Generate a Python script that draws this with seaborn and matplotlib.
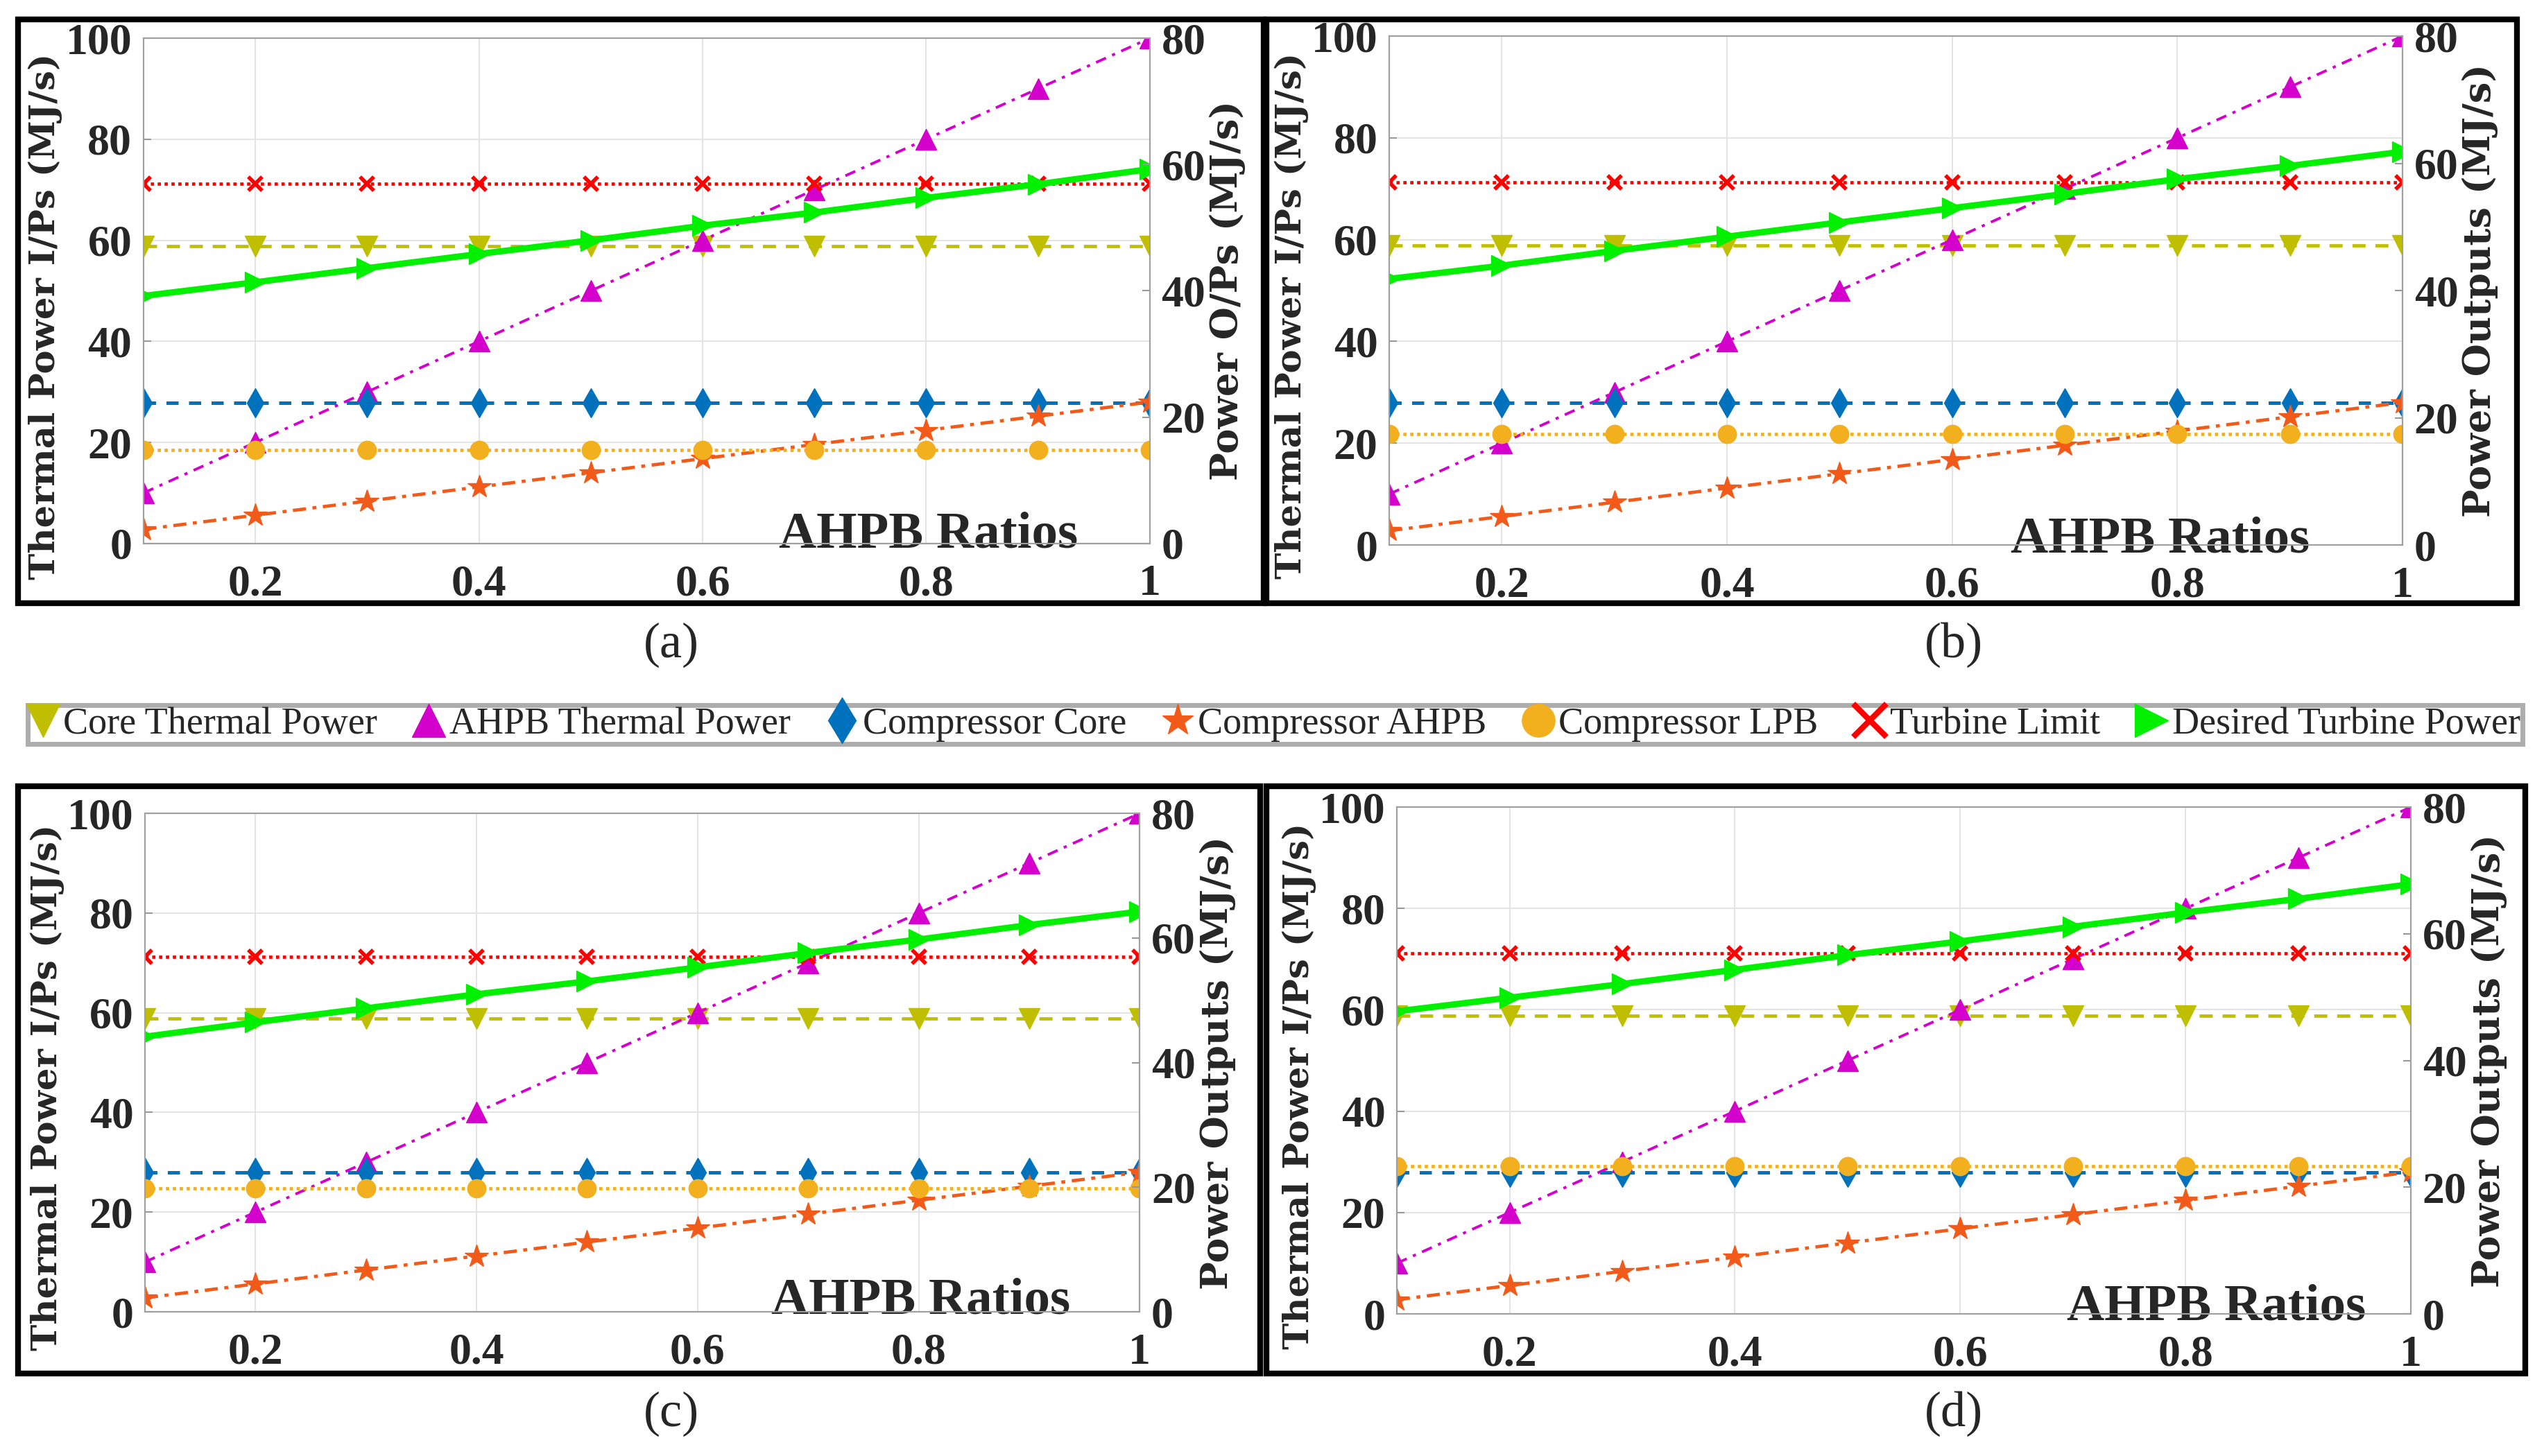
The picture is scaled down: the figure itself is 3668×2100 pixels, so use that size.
import matplotlib
matplotlib.use("Agg")
import matplotlib.pyplot as plt
import seaborn as sns
from matplotlib.lines import Line2D
from matplotlib.patches import Rectangle

# AHPB ratio on the x axis
ratios = [0.1, 0.2, 0.3, 0.4, 0.5, 0.6, 0.7, 0.8, 0.9, 1.0]

# series shared by all four panels (MJ/s, left scale)
core_thermal = [58.8, 58.8, 58.8, 58.8, 58.8, 58.8, 58.8, 58.8, 58.8, 58.8]
ahpb_thermal = [10, 20, 30, 40, 50, 60, 70, 80, 90, 100]
comp_core = [27.9, 27.9, 27.9, 27.9, 27.9, 27.9, 27.9, 27.9, 27.9, 27.9]
comp_ahpb = [2.8, 5.6, 8.4, 11.2, 14.0, 16.8, 19.6, 22.4, 25.2, 28.0]
turbine_limit = [71.2, 71.2, 71.2, 71.2, 71.2, 71.2, 71.2, 71.2, 71.2, 71.2]

# compressor LPB per panel
lpb_a = [18.5, 18.5, 18.5, 18.5, 18.5, 18.5, 18.5, 18.5, 18.5, 18.5]
lpb_b = [21.8, 21.8, 21.8, 21.8, 21.8, 21.8, 21.8, 21.8, 21.8, 21.8]
lpb_c = [24.8, 24.8, 24.8, 24.8, 24.8, 24.8, 24.8, 24.8, 24.8, 24.8]
lpb_d = [29.2, 29.2, 29.2, 29.2, 29.2, 29.2, 29.2, 29.2, 29.2, 29.2]

# desired turbine power per panel
desired_a = [49.0, 51.7, 54.5, 57.3, 60.0, 62.9, 65.5, 68.4, 71.1, 74.1]
desired_b = [52.3, 54.9, 57.8, 60.6, 63.4, 66.2, 69.0, 71.9, 74.5, 77.3]
desired_c = [55.2, 58.1, 60.9, 63.7, 66.3, 69.1, 72.0, 74.7, 77.6, 80.3]
desired_d = [59.7, 62.4, 65.1, 67.9, 70.8, 73.5, 76.4, 79.2, 81.9, 84.8]

labels = ['Core Thermal Power', 'AHPB Thermal Power', 'Compressor Core',
          'Compressor AHPB', 'Compressor LPB', 'Turbine Limit', 'Desired Turbine Power']
colors = ['#BFBF00', '#D400CC', '#0072BD', '#F25A1A', '#F2B01E', '#FF0000', '#00F000']
markers = ['v', '^', 'd', '*', 'o', 'x', '>']
lstyles = [(0, (4, 3)), (0, (4, 2.5, 1.2, 2.5)), (0, (3.5, 3)), (0, (4, 2, 1.2, 2)),
           (0, (1, 1.1)), (0, (1, 1.1)), '-']
lwidths = [3.4, 2.8, 3.6, 3.4, 3.4, 3.4, 6.5]
msizes = [21, 21, 21, 25, 19, 15, 21]

sns.set_style('white')
plt.rcParams['font.family'] = ['Liberation Serif', 'DejaVu Serif']

fig = plt.figure(figsize=(36.68, 21.0), dpi=100)

panels = [
    ('(a)', lpb_a, desired_a, 'Power O/Ps (MJ/s)', [0.0564, 0.6267, 0.3956, 0.3471], 0.78, -0.008,
     (0.264, 0.557), [0.0071, 0.5857, 0.4896, 0.401], 0.45),
    ('(b)', lpb_b, desired_b, 'Power Outputs (MJ/s)', [0.5461, 0.6257, 0.3983, 0.3495], 0.761, -0.014,
     (0.768, 0.557), [0.4978, 0.5857, 0.4916, 0.401], 0.45),
    ('(c)', lpb_c, desired_c, 'Power Outputs (MJ/s)', [0.0570, 0.0990, 0.3910, 0.3424], 0.78, -0.004,
     (0.264, 0.029), [0.0071, 0.0567, 0.4882, 0.4033], 0.45),
    ('(d)', lpb_d, desired_d, 'Power Outputs (MJ/s)', [0.5491, 0.0976, 0.3986, 0.3481], 0.808, -0.012,
     (0.768, 0.029), [0.4978, 0.0567, 0.4948, 0.4033], 0.45),
]

for tag, lpb, desired, right_label, rect, xl_x, xl_y, cap_pos, frame, ylab_y in panels:
    ax = fig.add_axes(rect)
    series = [core_thermal, ahpb_thermal, comp_core, comp_ahpb, lpb, turbine_limit, desired]
    for vals, c, m, ls, lw, ms in zip(series, colors, markers, lstyles, lwidths, msizes):
        sns.lineplot(x=ratios, y=vals, ax=ax, color=c, marker=m, linestyle=ls, linewidth=lw,
                     markersize=ms, markerfacecolor=c, markeredgecolor=c,
                     markeredgewidth=4 if m == 'x' else 1)
    ax.set_xlim(0.1, 1.0)
    ax.set_ylim(0, 100)
    ax.set_xticks([0.2, 0.4, 0.6, 0.8, 1.0])
    ax.set_xticklabels(['0.2', '0.4', '0.6', '0.8', '1'])
    ax.set_yticks([0, 20, 40, 60, 80, 100])
    ax.grid(True, color='#e4e4e4', linewidth=1.5)
    ax.set_axisbelow(True)
    ax.tick_params(axis='x', direction='in', length=8, width=1.5, color='#999999',
                   labelsize=46, pad=22)
    ax.tick_params(axis='y', direction='in', length=8, width=1.5, color='#999999',
                   labelsize=46, pad=12)
    for lab in ax.get_xticklabels() + ax.get_yticklabels():
        lab.set_fontweight('bold')
    ax.set_xlabel('')
    ax.set_ylabel('Thermal Power I/Ps (MJ/s)', family='DejaVu Serif', fontweight='bold',
                  fontsize=37, labelpad=3)
    ax.yaxis.label.set_y(ylab_y)
    ax.text(xl_x, xl_y, 'AHPB Ratios', transform=ax.transAxes, ha='center', va='baseline',
            fontsize=54, fontweight='bold')

    ax2 = ax.twinx()
    ax2.set_ylim(0, 80)
    ax2.set_yticks([0, 20, 40, 60, 80])
    ax2.tick_params(axis='y', direction='in', length=8, width=1.5, color='#999999',
                    labelsize=46, pad=12)
    for lab in ax2.get_yticklabels():
        lab.set_fontweight('bold')
    ax2.set_ylabel(right_label, family='DejaVu Serif', fontweight='bold', fontsize=39,
                   labelpad=4)
    for a in (ax, ax2):
        for sp in a.spines.values():
            sp.set_color('#a0a0a0')
            sp.set_linewidth(1.5)

    fig.text(cap_pos[0], cap_pos[1], tag, ha='center', va='center', fontsize=52)
    fig.add_artist(Rectangle((frame[0], frame[1]), frame[2], frame[3], transform=fig.transFigure,
                             fill=False, edgecolor='black', linewidth=6))

handles = [Line2D([], [], color=c, marker=m, linestyle='none', markersize=34,
                  markerfacecolor=c, markeredgecolor=c, markeredgewidth=6 if m == 'x' else 1)
           for c, m in zip(colors, markers)]
leg = fig.legend(handles, labels, loc='lower left', bbox_to_anchor=(0.0109, 0.489, 0.9806, 0.026),
                 mode='expand', ncol=7, frameon=True, fancybox=False, fontsize=39,
                 borderaxespad=0, handlelength=0.7, handletextpad=0.2, columnspacing=0.2,
                 borderpad=0.05)
leg.get_frame().set_edgecolor('#999999')
leg.get_frame().set_linewidth(5)

fig.savefig('out.png', dpi=100)
